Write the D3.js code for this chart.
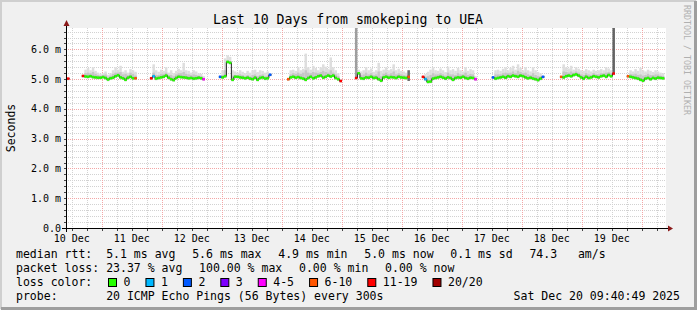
<!DOCTYPE html>
<html>
<head>
<meta charset="utf-8">
<script src="https://cdn.jsdelivr.net/npm/d3@7"></script>
<style>
body { margin: 0; background: #f0f0f0; }
text { font-family: "DejaVu Sans Mono", monospace; }
</style>
</head>
<body>
<svg id="chart" width="697" height="310"></svg>
<script>
// ---- data ----
var graphStart = new Date(2025, 11, 10, 9, 40, 49);
var graphEnd = new Date(2025, 11, 20, 9, 40, 49);
var stepHours = 1;

var yTicks = [0, 1, 2, 3, 4, 5, 6];
var yTickLabels = ["0.0", "1.0 m", "2.0 m", "3.0 m", "4.0 m", "5.0 m", "6.0 m"];
var xTickTimes = ["2025-12-10T12:00", "2025-12-11T12:00", "2025-12-12T12:00", "2025-12-13T12:00", "2025-12-14T12:00",
                  "2025-12-15T12:00", "2025-12-16T12:00", "2025-12-17T12:00", "2025-12-18T12:00", "2025-12-19T12:00"];
var xTickLabels = ["10 Dec", "11 Dec", "12 Dec", "13 Dec", "14 Dec", "15 Dec", "16 Dec", "17 Dec", "18 Dec", "19 Dec"];

// start of each run of data (hourly points)
var segStarts = ["2025-12-10T10:05", "2025-12-10T16:00", "2025-12-11T19:15", "2025-12-12T22:50", "2025-12-14T02:05",
                 "2025-12-15T05:15", "2025-12-16T08:00", "2025-12-17T12:00", "2025-12-18T15:15", "2025-12-19T18:00"];

// median rtt (ms)
var segMedian = [
  [5.02],
  [5.11, 5.09, 5.08, 5.10, 5.07, 5.06, 5.05, 5.05, 5.07, 5.04, 4.99, 5.03, 5.05, 5.10, 5.13, 5.06, 5.03, 4.98, 5.05, 5.08, 5.03, 5.03],
  [5.03, 5.10, 5.02, 5.04, 5.06, 5.08, 5.12, 5.05, 5.00, 4.97, 5.04, 5.08, 5.07, 5.06, 5.05, 5.03, 5.04, 5.02, 5.03, 5.05, 5.03, 5.00],
  [5.08, 5.06, 5.10, 5.58, 5.55, 4.98, 5.08, 5.08, 5.06, 5.05, 5.03, 5.05, 5.02, 5.00, 5.05, 4.98, 5.04, 5.06, 5.02, 5.03, 5.15],
  [5.00, 5.06, 5.08, 5.05, 5.07, 5.04, 5.02, 4.98, 5.04, 5.08, 5.03, 5.06, 5.10, 5.12, 5.05, 5.08, 5.12, 5.09, 5.12, 5.04, 5.00, 4.94],
  [5.04, 5.20, 5.03, 5.02, 5.06, 5.05, 5.08, 5.04, 5.05, 5.00, 4.95, 5.06, 5.08, 5.05, 5.07, 5.06, 5.04, 5.08, 5.06, 5.05, 5.04, 5.08],
  [5.08, 5.00, 4.91, 4.92, 5.02, 5.04, 5.06, 5.08, 5.05, 5.02, 5.06, 5.04, 4.98, 5.04, 5.06, 5.05, 5.08, 5.04, 5.02, 5.05, 5.04, 5.00],
  [5.06, 5.02, 5.04, 5.06, 5.08, 5.05, 5.10, 5.08, 5.12, 5.10, 5.08, 5.12, 5.10, 5.06, 5.03, 5.05, 5.02, 5.00, 4.97, 5.02, 5.08],
  [5.08, 5.06, 5.10, 5.12, 5.10, 5.14, 5.16, 5.12, 5.06, 5.02, 5.08, 5.04, 5.06, 5.10, 5.08, 5.06, 5.10, 5.12, 5.08, 5.14, 5.10, 5.19],
  [5.10, 5.08, 5.06, 5.04, 5.02, 4.98, 4.95, 5.02, 5.04, 5.00, 5.04, 5.02, 5.05, 5.04, 5.03]
];
// upper edge of the dense smoke (ms)
var segMid = [
  [5.03],
  [5.12, 5.20, 5.22, 5.20, 5.24, 5.18, 5.14, 5.12, 5.14, 5.16, 5.08, 5.12, 5.18, 5.22, 5.22, 5.24, 5.16, 5.18, 5.14, 5.22, 5.18, 5.12],
  [5.05, 5.22, 5.14, 5.14, 5.18, 5.18, 5.22, 5.14, 5.14, 5.10, 5.16, 5.20, 5.20, 5.24, 5.18, 5.16, 5.14, 5.16, 5.14, 5.12, 5.10, 5.04],
  [5.10, 5.14, 5.30, 5.62, 5.60, 5.12, 5.14, 5.12, 5.16, 5.14, 5.10, 5.14, 5.10, 5.14, 5.16, 5.10, 5.14, 5.16, 5.10, 5.12, 5.17],
  [5.02, 5.16, 5.20, 5.18, 5.22, 5.18, 5.22, 5.30, 5.22, 5.20, 5.24, 5.22, 5.20, 5.24, 5.28, 5.24, 5.22, 5.30, 5.22, 5.16, 5.10, 4.96],
  [5.05, 5.24, 5.14, 5.16, 5.22, 5.16, 5.20, 5.14, 5.16, 5.26, 5.10, 5.18, 5.22, 5.16, 5.20, 5.26, 5.16, 5.20, 5.16, 5.14, 5.12, 5.16],
  [5.09, 5.08, 5.10, 5.14, 5.20, 5.16, 5.16, 5.20, 5.16, 5.12, 5.22, 5.16, 5.16, 5.14, 5.20, 5.16, 5.16, 5.22, 5.14, 5.18, 5.16, 5.04],
  [5.08, 5.16, 5.16, 5.16, 5.20, 5.22, 5.20, 5.22, 5.26, 5.20, 5.28, 5.24, 5.20, 5.22, 5.16, 5.14, 5.20, 5.14, 5.10, 5.10, 5.10],
  [5.09, 5.26, 5.24, 5.22, 5.26, 5.22, 5.26, 5.22, 5.16, 5.14, 5.20, 5.16, 5.14, 5.20, 5.16, 5.16, 5.20, 5.20, 5.22, 5.24, 5.20, 5.20],
  [5.11, 5.18, 5.16, 5.18, 5.14, 5.16, 5.12, 5.14, 5.18, 5.14, 5.14, 5.16, 5.16, 5.12, 5.10]
];
// top of the light smoke (ms)
var segHigh = [
  [5.04],
  [5.14, 5.32, 5.38, 5.30, 5.40, 5.28, 5.22, 5.18, 5.20, 5.26, 5.15, 5.20, 5.30, 5.40, 5.32, 5.45, 5.25, 5.30, 5.22, 5.34, 5.30, 5.25],
  [5.08, 5.50, 5.30, 5.25, 5.32, 5.28, 5.40, 5.22, 5.30, 5.20, 5.28, 5.35, 5.30, 5.55, 5.30, 5.28, 5.22, 5.30, 5.26, 5.20, 5.18, 5.10],
  [5.12, 5.30, 5.70, 5.80, 5.75, 5.30, 5.26, 5.22, 5.30, 5.25, 5.20, 5.28, 5.22, 5.30, 5.32, 5.24, 5.30, 5.28, 5.22, 5.26, 5.20],
  [5.05, 5.30, 5.32, 5.28, 5.40, 5.30, 5.35, 5.86, 5.40, 5.32, 5.45, 5.38, 5.30, 5.40, 5.50, 5.42, 5.34, 5.73, 5.40, 5.30, 5.20, 5.00],
  [5.10, 5.32, 5.26, 5.30, 5.40, 5.30, 5.36, 5.25, 5.30, 5.55, 5.28, 5.32, 5.40, 5.30, 5.34, 5.50, 5.30, 5.35, 5.28, 5.26, 5.22, 5.30],
  [5.10, 5.18, 5.25, 5.32, 5.40, 5.30, 5.28, 5.36, 5.30, 5.24, 5.42, 5.30, 5.34, 5.28, 5.38, 5.30, 5.26, 5.40, 5.28, 5.34, 5.30, 5.10],
  [5.10, 5.30, 5.32, 5.28, 5.35, 5.40, 5.30, 5.38, 5.45, 5.32, 5.50, 5.38, 5.30, 5.40, 5.30, 5.26, 5.40, 5.30, 5.24, 5.20, 5.12],
  [5.10, 5.50, 5.40, 5.36, 5.45, 5.32, 5.40, 5.35, 5.30, 5.28, 5.34, 5.30, 5.26, 5.32, 5.28, 5.30, 5.34, 5.30, 5.40, 5.36, 5.30, 5.20],
  [5.12, 5.30, 5.26, 5.34, 5.28, 5.38, 5.30, 5.26, 5.32, 5.28, 5.24, 5.30, 5.26, 5.22, 5.20]
];
// lost pings out of 20
var segLoss = [
  [12],
  [12, 0, 0, 0, 0, 0, 0, 0, 0, 0, 0, 0, 0, 0, 0, 0, 0, 0, 0, 0, 0, 8],
  [12, 1, 0, 0, 0, 0, 0, 0, 0, 0, 0, 0, 0, 0, 0, 0, 0, 0, 0, 0, 0, 4],
  [2, 0, 0, 0, 0, 0, 0, 0, 0, 0, 0, 0, 0, 0, 0, 0, 0, 0, 0, 0, 2],
  [8, 0, 0, 0, 0, 0, 0, 0, 0, 0, 0, 0, 0, 0, 0, 0, 0, 0, 0, 0, 0, 12],
  [12, 0, 0, 0, 0, 0, 0, 0, 0, 0, 0, 0, 0, 0, 0, 0, 0, 0, 0, 0, 0, 8],
  [12, 1, 0, 0, 0, 0, 0, 0, 0, 0, 0, 0, 0, 0, 0, 0, 0, 0, 0, 0, 0, 4],
  [2, 0, 0, 0, 0, 0, 0, 0, 0, 0, 0, 0, 0, 0, 0, 0, 0, 0, 0, 0, 2],
  [8, 0, 0, 0, 0, 0, 0, 0, 0, 0, 0, 0, 0, 0, 0, 0, 0, 0, 0, 0, 0, 12],
  [8, 0, 0, 0, 0, 0, 0, 0, 0, 0, 0, 0, 0, 0, 0]
];

// tall smoke columns (single hours with far-out pings)
var spikeTimes = ["2025-12-15T05:15", "2025-12-16T02:15", "2025-12-19T12:15"];
var spikeLow = [5.06, 4.94, 5.19];
var spikeHigh = [7.5, 5.30, 7.5];
var spikePings = [2, 7, 8];

var lossLabels = ["0", "1", "2", "3", "4-5", "6-10", "11-19", "20/20"];
var lossColors = ["#26ff00", "#00b8ff", "#0059ff", "#7e00ff", "#ff00ff", "#ff5500", "#ff0000", "#a10000"];
var lossBounds = [1, 2, 3, 4, 6, 11, 20];

var rttValues = ["5.1", "5.6", "4.9", "5.0", "0.1"];
var rttNames = ["avg", "max", "min", "now", "sd"];
var amPerSec = "74.3";
var plossValues = ["23.37", "100.00", "0.00", "0.00"];
var plossNames = ["avg", "max", "min", "now"];
var probeText = "20 ICMP Echo Pings (56 Bytes) every 300s";
var stampText = "Sat Dec 20 09:40:49 2025";
var titleText = "Last 10 Days from smokeping to UEA";

// ---- drawing ----
(function() {
var W = 697, H = 310;
var padL = 66, padR = 666, padT = 28, padB = 228;
var svg = d3.select("#chart");
var parse = d3.timeParse("%Y-%m-%dT%H:%M");
var stepMs = stepHours * 3600 * 1000;

var x = d3.scaleTime().domain([graphStart, graphEnd]).range([padL, padR]);
var y = d3.scaleLinear().domain([0, 6.72]).range([padB, padT]);
var lossColor = d3.scaleThreshold().domain(lossBounds).range(lossColors);
var spikeShade = d3.scaleLinear().domain([1, 10]).range(["#a8a8a8", "#505050"]);

// frame
svg.append("rect").attr("width", W).attr("height", H).attr("fill", "#f0f0f0");
svg.append("path").attr("d", "M1,309V1H696").attr("fill", "none").attr("stroke", "#cfcfcf").attr("stroke-width", 2);
svg.append("path").attr("d", "M1,308.5H695.5V1").attr("fill", "none").attr("stroke", "#9e9e9e").attr("stroke-width", 3);

svg.append("rect").attr("x", padL).attr("y", padT).attr("width", padR - padL).attr("height", padB - padT).attr("fill", "#ffffff");

svg.append("clipPath").attr("id", "plotclip").append("rect")
  .attr("x", padL).attr("y", padT).attr("width", padR - padL + 1).attr("height", padB - padT);

// grid
var grid = svg.append("g");
var minorX = d3.timeHour.every(6).range(graphStart, graphEnd).filter(function(d) { return d.getHours() !== 0; });
var majorX = d3.timeDay.range(graphStart, graphEnd);
var minorY = d3.range(1, 34).map(function(i) { return i / 5; }).filter(function(v, i) { return (i + 1) % 5 !== 0; });
var minorCol = "#d2d2d2", majorCol = "#f3a6a6";

grid.selectAll(".gx").data(minorX).enter().append("line")
  .attr("x1", function(d) { return Math.round(x(d)) + 0.5; })
  .attr("x2", function(d) { return Math.round(x(d)) + 0.5; })
  .attr("y1", padT).attr("y2", padB)
  .attr("stroke", minorCol).attr("stroke-dasharray", "1,1");
grid.selectAll(".gy").data(minorY).enter().append("line")
  .attr("x1", padL).attr("x2", padR)
  .attr("y1", function(d) { return Math.round(y(d)) + 0.5; })
  .attr("y2", function(d) { return Math.round(y(d)) + 0.5; })
  .attr("stroke", minorCol).attr("stroke-dasharray", "1,1");
grid.selectAll(".mx").data(majorX).enter().append("line")
  .attr("x1", function(d) { return Math.round(x(d)) + 0.5; })
  .attr("x2", function(d) { return Math.round(x(d)) + 0.5; })
  .attr("y1", padT).attr("y2", padB)
  .attr("stroke", majorCol).attr("stroke-dasharray", "1,1");
grid.selectAll(".my").data(yTicks.slice(1)).enter().append("line")
  .attr("x1", padL).attr("x2", padR)
  .attr("y1", function(d) { return Math.round(y(d)) + 0.5; })
  .attr("y2", function(d) { return Math.round(y(d)) + 0.5; })
  .attr("stroke", majorCol).attr("stroke-dasharray", "1,1");

// build points
var segments = segStarts.map(function(s, i) {
  var t0 = parse(s);
  return segMedian[i].map(function(m, j) {
    var t = new Date(+t0 + j * stepMs);
    return { t: t, t1: new Date(+t + stepMs), med: m, mid: segMid[i][j], hi: segHigh[i][j], loss: segLoss[i][j] };
  });
});
var points = [].concat.apply([], segments);

var plot = svg.append("g").attr("clip-path", "url(#plotclip)");

function band(cls, lo, hi, fill) {
  plot.selectAll("." + cls).data(points).enter().append("rect")
    .attr("x", function(d) { return x(d.t); })
    .attr("width", function(d) { return x(d.t1) - x(d.t); })
    .attr("y", function(d) { return y(hi(d)); })
    .attr("height", function(d) { return Math.max(0, y(lo(d)) - y(hi(d))); })
    .attr("fill", fill);
}
band("s1", function(d) { return d.med - 0.06; }, function(d) { return d.hi; }, "#dedede");
band("s2", function(d) { return d.med - 0.04; }, function(d) { return d.mid; }, "#c6c6c6");
band("s3", function(d) { return d.med - 0.03; }, function(d) { return Math.min(d.mid, d.med + 0.05); }, "#a9a9a9");

plot.selectAll(".spike").data(spikeTimes).enter().append("rect")
  .attr("x", function(d) { return x(parse(d)); })
  .attr("width", function(d) { return x(new Date(+parse(d) + stepMs)) - x(parse(d)); })
  .attr("y", function(d, i) { return y(spikeHigh[i]); })
  .attr("height", function(d, i) { return y(spikeLow[i]) - y(spikeHigh[i]); })
  .attr("fill", function(d, i) { return spikeShade(spikePings[i]); });

// median: dark step line, then loss coloured runs
var stepLine = d3.line().x(function(d) { return x(d.t); }).y(function(d) { return y(d.med); }).curve(d3.curveStepAfter);
segments.forEach(function(seg) {
  var pts = seg.concat([{ t: seg[seg.length - 1].t1, med: seg[seg.length - 1].med }]);
  plot.append("path").attr("d", stepLine(pts)).attr("fill", "none").attr("stroke", "#202020").attr("stroke-width", 1);
});
plot.selectAll(".med").data(points).enter().append("line")
  .attr("x1", function(d) { return x(d.t); })
  .attr("x2", function(d) { return x(d.t1); })
  .attr("y1", function(d) { return y(d.med); })
  .attr("y2", function(d) { return y(d.med); })
  .attr("stroke", function(d) { return lossColor(d.loss); })
  .attr("stroke-width", 2.5);

// axes
var axisCol = "#000000", arrowCol = "#8b1a1a";
svg.append("line").attr("x1", 62).attr("x2", 670).attr("y1", padB + 0.5).attr("y2", padB + 0.5).attr("stroke", axisCol);
svg.append("line").attr("x1", padL + 0.5).attr("x2", padL + 0.5).attr("y1", padB + 4).attr("y2", 24).attr("stroke", axisCol);
svg.append("path").attr("d", "M668,225.5L673,228.5L668,231.5Z").attr("fill", arrowCol);
svg.append("path").attr("d", "M63.5,26L66.5,20L69.5,26Z").attr("fill", arrowCol);

// small ticks on the axes
svg.selectAll(".tx").data(minorX.concat(majorX)).enter().append("line")
  .attr("x1", function(d) { return Math.round(x(d)) + 0.5; })
  .attr("x2", function(d) { return Math.round(x(d)) + 0.5; })
  .attr("y1", padB + 1).attr("y2", padB + 3).attr("stroke", "#444");
svg.selectAll(".ty").data(minorY.concat(yTicks.slice(1))).enter().append("line")
  .attr("x1", padL - 2).attr("x2", padL)
  .attr("y1", function(d) { return Math.round(y(d)) + 0.5; })
  .attr("y2", function(d) { return Math.round(y(d)) + 0.5; })
  .attr("stroke", "#444");

svg.selectAll(".yl").data(yTicks).enter().append("text")
  .attr("x", 61).attr("y", function(d) { return y(d) + 3.5; })
  .attr("text-anchor", "end").style("font-size", "10px").attr("fill", "#000")
  .text(function(d, i) { return yTickLabels[i]; });

svg.selectAll(".xl").data(xTickTimes).enter().append("text")
  .attr("x", function(d) { return x(parse(d)); }).attr("y", 241.5)
  .attr("text-anchor", "middle").style("font-size", "10px").attr("fill", "#000")
  .text(function(d, i) { return xTickLabels[i]; });

// titles
svg.append("text").attr("x", 348).attr("y", 23.5).attr("text-anchor", "middle")
  .style("font-size", "13.2px").attr("fill", "#000").text(titleText);
svg.append("text").attr("transform", "translate(14.5,128) rotate(-90)").attr("text-anchor", "middle")
  .style("font-size", "11.5px").attr("fill", "#000").text("Seconds");
svg.append("text").attr("transform", "translate(683.5,60) rotate(90)").attr("text-anchor", "middle")
  .style("font-size", "8.3px").attr("fill", "#b0b0b0").text("RRDTOOL / TOBI OETIKER");

// legend
var legSize = "11.53px";
var rowY = [258, 272, 286, 299.5];
var gap = 16.7;

function legendRow(yy, items) {
  var xx = 16;
  items.forEach(function(s) {
    var t = svg.append("text").attr("x", xx).attr("y", yy).attr("xml:space", "preserve")
      .style("font-size", legSize).attr("fill", "#000").text(s);
    xx += t.node().getComputedTextLength() + gap;
  });
}

var rttItems = rttValues.map(function(v, i) {
  return v + " ms " + rttNames[i];
});
rttItems[0] = "median rtt:  " + rttItems[0];
rttItems.push(amPerSec + "   am/s");
legendRow(rowY[0], rttItems);

var plossItems = plossValues.map(function(v, i) { return v + " % " + plossNames[i]; });
plossItems[0] = "packet loss: " + plossItems[0];
legendRow(rowY[1], plossItems);

// loss colour row
svg.append("text").attr("x", 16).attr("y", rowY[2]).style("font-size", legSize).attr("fill", "#000").text("loss color:");
var lx = 108.5;
lossLabels.forEach(function(lab, i) {
  svg.append("rect").attr("x", lx).attr("y", 278.5).attr("width", 8).attr("height", 8)
    .attr("fill", lossColors[i]).attr("stroke", "#000").attr("stroke-width", 1);
  var t = svg.append("text").attr("x", lx + 15).attr("y", rowY[2]).style("font-size", legSize).attr("fill", "#000").text(lab);
  lx += 15 + t.node().getComputedTextLength() + 15.5;
});

svg.append("text").attr("x", 16).attr("y", rowY[3]).attr("xml:space", "preserve")
  .style("font-size", legSize).attr("fill", "#000").text("probe:       " + probeText);
svg.append("text").attr("x", 680).attr("y", rowY[3]).attr("text-anchor", "end")
  .style("font-size", legSize).attr("fill", "#000").text(stampText);
})();
</script>
</body>
</html>
